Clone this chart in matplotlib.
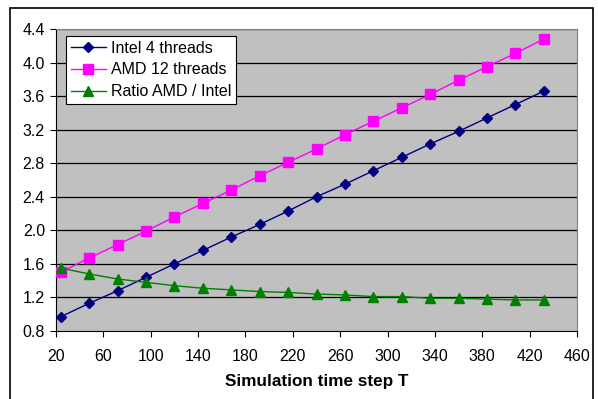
import numpy as np
import matplotlib.pyplot as plt
from matplotlib.patches import Rectangle

plt.rcParams['font.family'] = ['Liberation Sans', 'DejaVu Sans']

steps = [24, 48, 72, 96, 120, 144, 168, 192, 216, 240, 264, 288, 312, 336, 360, 384, 408, 432]
intel = [0.97, 1.13, 1.28, 1.44, 1.60, 1.76, 1.92, 2.07, 2.23, 2.40, 2.55, 2.71, 2.87, 3.03, 3.18, 3.34, 3.50, 3.66]
amd = [1.50, 1.67, 1.83, 1.99, 2.16, 2.32, 2.48, 2.65, 2.81, 2.97, 3.14, 3.30, 3.46, 3.62, 3.79, 3.95, 4.11, 4.28]
ratio = [1.55, 1.48, 1.42, 1.38, 1.34, 1.31, 1.29, 1.27, 1.26, 1.24, 1.23, 1.21, 1.21, 1.19, 1.19, 1.18, 1.17, 1.17]

xticks = np.arange(20, 461, 40)
yticks = np.arange(0.8, 4.41, 0.4)

fig = plt.figure(figsize=(5.98, 3.99), dpi=100)
ax = fig.add_axes([56 / 598, 1 - 331 / 399, (577 - 56) / 598, (331 - 29) / 399])
ax.set_facecolor('#c0c0c0')

for y in yticks[1:]:
    ax.axhline(y, color='black', lw=0.9, zorder=1)

ax.plot(steps, intel, color='#000080', lw=1, marker='D', ms=5, label='Intel 4 threads', zorder=3)
ax.plot(steps, amd, color='#ff00ff', lw=1, marker='s', ms=6.5, label='AMD 12 threads', zorder=3)
ax.plot(steps, ratio, color='#008000', lw=1, marker='^', ms=6.5, label='Ratio AMD / Intel', zorder=3)

ax.set_xlim(20, 460)
ax.set_ylim(0.8, 4.4)
ax.set_xticks(xticks)
ax.set_yticks(yticks)
ax.set_yticklabels([f"{v:.1f}" for v in yticks])
ax.tick_params(direction='out', length=4, width=0.8, labelsize=11.5, pad=4)
ax.tick_params(axis='x', pad=9)

for s in ['top', 'right']:
    ax.spines[s].set_color('#808080')
for s in ['left', 'bottom']:
    ax.spines[s].set_color('black')

ax.set_xlabel('Simulation time step T', fontsize=12.3, fontweight='bold', labelpad=7)

leg = ax.legend(loc='upper left', bbox_to_anchor=(0.019, 0.977), fontsize=11.5,
                frameon=True, fancybox=False, framealpha=1, edgecolor='black',
                borderpad=0.3, labelspacing=0.42, handlelength=2.2, handletextpad=0.3,
                borderaxespad=0)
leg.get_frame().set_linewidth(0.8)

# outer chart border
fig.patches.append(Rectangle((10 / 598, -0.05), 583 / 598, 1.05 - 8 / 399,
                             transform=fig.transFigure, fill=False,
                             edgecolor='black', lw=1.2))

fig.savefig('out.png', dpi=100)
